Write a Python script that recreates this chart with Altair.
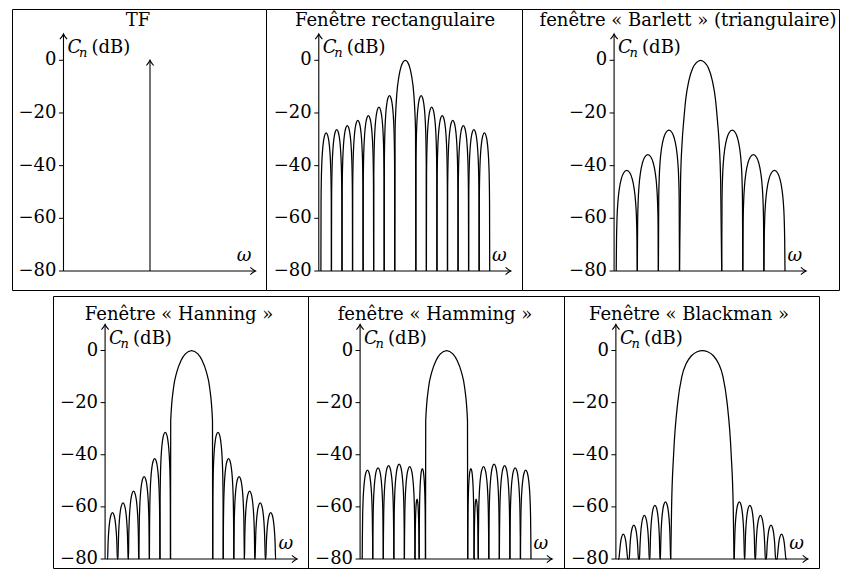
import altair as alt
import pandas as pd

# ---------------- data ----------------
# abscissa: omega in frequency bins (main lobe centred on 0); ordinate: C_n in dB
Y_TICKS = [0, -20, -40, -60, -80]
Y_TICK_LABELS = ["0", "\u221220", "\u221240", "\u221260", "\u221280"]

TITLES = ["TF", "Fenêtre rectangulaire", "fenêtre « Barlett » (triangulaire)",
          "Fenêtre « Hanning »", "fenêtre « Hamming »", "Fenêtre « Blackman »"]

# TF : a single line
TF_X = [0]
TF_Y = [0]

# rectangular window
RECT_MAIN_X = [-1, -0.97, -0.9, -0.8, -0.6, -0.4, -0.2, 0, 0.2, 0.4, 0.6, 0.8, 0.9, 0.97, 1]
RECT_MAIN_Y = [-80, -27, -19, -12.5, -6, -2.4, -0.6, 0, -0.6, -2.4, -6, -12.5, -19, -27, -80]
RECT_LOBE_START = [-8, -7, -6, -5, -4, -3, -2, 1, 2, 3, 4, 5, 6, 7]
RECT_LOBE_END = [-7, -6, -5, -4, -3, -2, -1, 2, 3, 4, 5, 6, 7, 8]
RECT_LOBE_PEAK = [-27.6, -26.3, -24.8, -22.8, -21.0, -17.8, -13.4,
                  -13.4, -17.8, -21.0, -22.8, -24.8, -26.3, -27.6]

# Barlett (triangular) window
BART_MAIN_X = [-2, -1.9, -1.75, -1.6, -1.4, -1.1, -0.75, -0.4, 0, 0.4, 0.75, 1.1, 1.4, 1.6, 1.75, 1.9, 2]
BART_MAIN_Y = [-80, -46, -31, -23, -14.5, -7.5, -3, -0.9, 0, -0.9, -3, -7.5, -14.5, -23, -31, -46, -80]
BART_LOBE_START = [-8, -6, -4, 2, 4, 6]
BART_LOBE_END = [-6, -4, -2, 4, 6, 8]
BART_LOBE_PEAK = [-41.8, -35.8, -26.5, -26.5, -35.8, -41.8]

# Hanning window
HANN_MAIN_X = [-2, -1.98, -1.72, -1.4, -1.0, -0.59, 0, 0.59, 1.0, 1.4, 1.72, 1.98, 2]
HANN_MAIN_Y = [-80, -27, -14.5, -8.2, -3.8, -1.3, 0, -1.3, -3.8, -8.2, -14.5, -27, -80]
HANN_LOBE_START = [-8, -7, -6, -5, -4, -3, 2, 3, 4, 5, 6, 7]
HANN_LOBE_END = [-7, -6, -5, -4, -3, -2, 3, 4, 5, 6, 7, 8]
HANN_LOBE_PEAK = [-62.2, -58.5, -54.0, -48.4, -41.5, -31.4,
                  -31.4, -41.5, -48.4, -54.0, -58.5, -62.2]

# Hamming window
HAMM_MAIN_X = [-2, -1.98, -1.72, -1.4, -1.0, -0.59, 0, 0.59, 1.0, 1.4, 1.72, 1.98, 2]
HAMM_MAIN_Y = [-80, -27, -14.5, -8.2, -3.8, -1.3, 0, -1.3, -3.8, -8.2, -14.5, -27, -80]
HAMM_LOBE_START = [-8, -7, -6, -5, -4, -3, -2.6, 2, 2.6, 3, 4, 5, 6, 7]
HAMM_LOBE_END = [-7, -6, -5, -4, -3, -2.6, -2, 2.6, 3, 4, 5, 6, 7, 8]
HAMM_LOBE_PEAK = [-45.9, -45.0, -44.2, -43.6, -44.6, -57.0, -45.3,
                  -45.3, -57.0, -44.6, -43.6, -44.2, -45.0, -45.9]

# Blackman window
BLACK_MAIN_X = [-3, -2.92, -2.73, -2.34, -1.95, -1.53, -1.04, -0.5, 0, 0.5, 1.04, 1.53, 1.95, 2.34, 2.73, 2.92, 3]
BLACK_MAIN_Y = [-80, -60, -40, -20, -10, -5, -2, -0.5, 0, -0.5, -2, -5, -10, -20, -40, -60, -80]
BLACK_LOBE_START = [-8, -7, -6, -5, -4, 3, 4, 5, 6, 7]
BLACK_LOBE_END = [-7, -6, -5, -4, -3, 4, 5, 6, 7, 8]
BLACK_LOBE_PEAK = [-70.5, -67.0, -63.3, -59.4, -58.1, -58.1, -59.4, -63.3, -67.0, -70.5]

# shape of one side lobe as drawn: fraction of the lobe width, dB below its peak
LOBE_U = [0.0, 0.015, 0.04, 0.08, 0.15, 0.25, 0.35, 0.5, 0.65, 0.75, 0.85, 0.92, 0.96, 0.985, 1.0]
LOBE_DROP = [-200, -26.5, -18, -12.1, -6.9, -3.0, -1.0, 0, -1.0, -3.0, -6.9, -12.1, -18, -26.5, -200]

# ---------------- helpers ----------------
FONT = "DejaVu Serif"
FS = 18
INK = "black"
AXIS_X = -8.2      # position of the C_n axis (bins)
TIP_X = 10         # end of the omega axis (bins)
TIP_Y = 10         # end of the C_n axis (dB)
ARROW = "M -1.3 -0.9 Q -0.5 -0.2 0 0 Q -0.5 0.2 -1.3 0.9"


def spectrum(main_x, main_y, starts, ends, peaks):
    rows = [{"x": x, "y": y, "lobe": 0} for x, y in zip(main_x, main_y)]
    for i, (a, b, p) in enumerate(zip(starts, ends, peaks), start=1):
        for u, d in zip(LOBE_U, LOBE_DROP):
            rows.append({"x": a + u * (b - a), "y": max(-80.0, p + d), "lobe": i})
    return pd.DataFrame(rows)


def panel(title, w, h, cx, y0, y80, title_top, title_x, curve=None, spike=None):
    xs = alt.Scale(domain=[-10, 10], range=[cx - 105.5, cx + 105.5], nice=False, zero=False)
    ys = alt.Scale(domain=[-80, 0], range=[y80, y0], nice=False, zero=False)

    def X(v):
        return alt.XDatum(v, scale=xs, axis=None)

    def Y(v):
        return alt.YDatum(v, scale=ys, axis=None)

    base = alt.Chart(pd.DataFrame({"k": [0]}))
    layers = []
    # axes lines
    layers.append(base.mark_rule(color=INK, strokeWidth=1.1).encode(
        x=X(AXIS_X), x2=alt.X2Datum(TIP_X), y=Y(-80)))
    layers.append(base.mark_rule(color=INK, strokeWidth=1.1).encode(
        x=X(AXIS_X), y=Y(-80), y2=alt.Y2Datum(TIP_Y)))
    # arrow heads
    layers.append(base.mark_point(shape=ARROW, filled=False, size=64, color=INK,
                                  strokeWidth=1.1, opacity=1, angle=0).encode(
        x=X(TIP_X), y=Y(-80)))
    layers.append(base.mark_point(shape=ARROW, filled=False, size=64, color=INK,
                                  strokeWidth=1.1, opacity=1, angle=270).encode(
        x=X(AXIS_X), y=Y(TIP_Y)))
    # ticks and labels
    ticks = alt.Chart(pd.DataFrame({"v": Y_TICKS, "label": Y_TICK_LABELS}))
    layers.append(ticks.mark_rule(color=INK, strokeWidth=1, xOffset=-4.5).encode(
        x=X(AXIS_X), x2=alt.X2Datum(AXIS_X), y=alt.Y("v:Q", scale=ys, axis=None)))
    layers.append(ticks.mark_text(align="right", baseline="middle", dx=-7, font=FONT,
                                  fontSize=FS, color=INK).encode(
        x=X(AXIS_X), y=alt.Y("v:Q", scale=ys, axis=None), text="label:N"))
    # axis names
    layers.append(base.mark_text(text="C", align="left", baseline="alphabetic", dx=4, dy=-7,
                                 font=FONT, fontSize=FS, fontStyle="italic", color=INK).encode(
        x=X(AXIS_X), y=Y(0)))
    layers.append(base.mark_text(text="n", align="left", baseline="alphabetic", dx=15.5, dy=-3,
                                 font=FONT, fontSize=13, fontStyle="italic", color=INK).encode(
        x=X(AXIS_X), y=Y(0)))
    layers.append(base.mark_text(text="(dB)", align="left", baseline="alphabetic", dx=28, dy=-7,
                                 font=FONT, fontSize=FS, color=INK).encode(
        x=X(AXIS_X), y=Y(0)))
    layers.append(base.mark_text(text="ω", align="right", baseline="alphabetic", dx=-4, dy=-10,
                                 font=FONT, fontSize=FS, fontStyle="italic", color=INK).encode(
        x=X(TIP_X), y=Y(-80)))
    # title
    layers.append(base.mark_text(text=title, align="center", baseline="top",
                                 font=FONT, fontSize=FS, color=INK).encode(
        x=alt.value(title_x), y=alt.value(title_top)))
    # data
    if curve is not None:
        layers.append(alt.Chart(curve).mark_line(interpolate="monotone", color=INK,
                                                 strokeWidth=1.25).encode(
            x=alt.X("x:Q", scale=xs, axis=None),
            y=alt.Y("y:Q", scale=ys, axis=None),
            detail="lobe:N"))
    if spike is not None:
        sp = alt.Chart(spike)
        layers.append(sp.mark_rule(color=INK, strokeWidth=1.1).encode(
            x=alt.X("x:Q", scale=xs, axis=None),
            y=alt.Y("y:Q", scale=ys, axis=None),
            y2=alt.Y2Datum(-80)))
        layers.append(sp.mark_point(shape=ARROW, filled=False, size=64, color=INK,
                                    strokeWidth=1.1, opacity=1, angle=270).encode(
            x=alt.X("x:Q", scale=xs, axis=None),
            y=alt.Y("y:Q", scale=ys, axis=None)))
    return alt.layer(*layers).properties(width=w, height=h)


TOP_H = 281
BOT_H = 272
TOP_Y = (51.3, 262, 3)
BOT_Y = (54.5, 263, 9.5)

p1 = panel(TITLES[0], 254, TOP_H, 138, *TOP_Y, 126,
           spike=pd.DataFrame({"x": TF_X, "y": TF_Y}))
p2 = panel(TITLES[1], 256, TOP_H, 139.3, *TOP_Y, 129,
           curve=spectrum(RECT_MAIN_X, RECT_MAIN_Y, RECT_LOBE_START, RECT_LOBE_END, RECT_LOBE_PEAK))
p3 = panel(TITLES[2], 317, TOP_H, 178.6, *TOP_Y, 166,
           curve=spectrum(BART_MAIN_X, BART_MAIN_Y, BART_LOBE_START, BART_LOBE_END, BART_LOBE_PEAK))
p4 = panel(TITLES[3], 255, BOT_H, 138.6, *BOT_Y, 126,
           curve=spectrum(HANN_MAIN_X, HANN_MAIN_Y, HANN_LOBE_START, HANN_LOBE_END, HANN_LOBE_PEAK))
p5 = panel(TITLES[4], 256, BOT_H, 138.6, *BOT_Y, 127,
           curve=spectrum(HAMM_MAIN_X, HAMM_MAIN_Y, HAMM_LOBE_START, HAMM_LOBE_END, HAMM_LOBE_PEAK))
p6 = panel(TITLES[5], 255, BOT_H, 138.4, *BOT_Y, 125,
           curve=spectrum(BLACK_MAIN_X, BLACK_MAIN_Y, BLACK_LOBE_START, BLACK_LOBE_END, BLACK_LOBE_PEAK))

spacer = alt.Chart(pd.DataFrame({"k": [0]})).mark_point(opacity=0, size=1).encode(
    x=alt.value(20), y=alt.value(20)).properties(
    width=41, height=BOT_H, view=alt.ViewBackground(stroke="transparent"))

top = alt.hconcat(p1, p2, p3, spacing=0, bounds="flush")
bottom = alt.hconcat(spacer, p4, p5, p6, spacing=0, bounds="flush")

chart = alt.vconcat(top, bottom, spacing=4).properties(
    padding={"left": 3, "top": 0, "right": 0, "bottom": 0}, background="white"
).configure_view(stroke="black", strokeWidth=1)

chart.save("out.html", embed_options={"renderer": "svg", "actions": False})
